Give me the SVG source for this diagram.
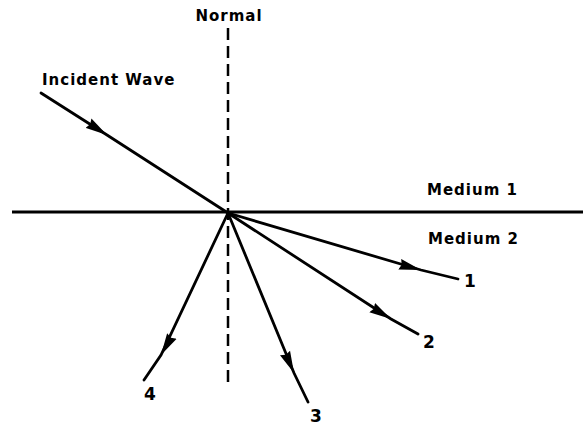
<svg xmlns="http://www.w3.org/2000/svg" width="583" height="429" viewBox="0 0 583 429">
<style>
.ray{fill:none;stroke:#000;stroke-width:2.8;stroke-linecap:round;marker-mid:url(#ah)}
.lbl{font-family:"DejaVu Sans","Liberation Sans",sans-serif;font-weight:bold;font-size:15px;letter-spacing:1px;fill:#000}
.num{font-size:17px}
</style>
<defs>
<marker id="ah" viewBox="0 0 22 12" refX="22" refY="6" markerWidth="22" markerHeight="12" markerUnits="userSpaceOnUse" orient="auto">
<path d="M0,0.5 L22,6 L0,11.5 L2,6 Z" fill="#000"/>
</marker>
</defs>
<rect width="583" height="429" fill="#fff"/>
<g id="interface"><line x1="12" y1="212" x2="583" y2="212" stroke="#000" stroke-width="2.8"/></g>
<g id="normal"><line x1="228" y1="28" x2="228" y2="388" stroke="#000" stroke-width="2.5" stroke-dasharray="12,6"/>
<text class="lbl" x="229" y="21" text-anchor="middle">Normal</text></g>
<g id="labels">
<text class="lbl" x="42" y="85">Incident Wave</text>
<text class="lbl" x="427" y="195">Medium  1</text>
<text class="lbl" x="428" y="244">Medium  2</text>
<text class="lbl num" x="464" y="287">1</text>
<text class="lbl num" x="423" y="348">2</text>
<text class="lbl num" x="310" y="422">3</text>
<text class="lbl num" x="144" y="400">4</text>
</g>
<g id="connectors">
<path class="ray" d="M41,93 L107,135 L228,213"/>
<path class="ray" d="M228,213 L421,270 L458,279"/>
<path class="ray" d="M228,213 L391,319 L418,334"/>
<path class="ray" d="M228,213 L294,373 L308,402"/>
<path class="ray" d="M228,213 L161,355 L144,380"/>
</g>
</svg>
